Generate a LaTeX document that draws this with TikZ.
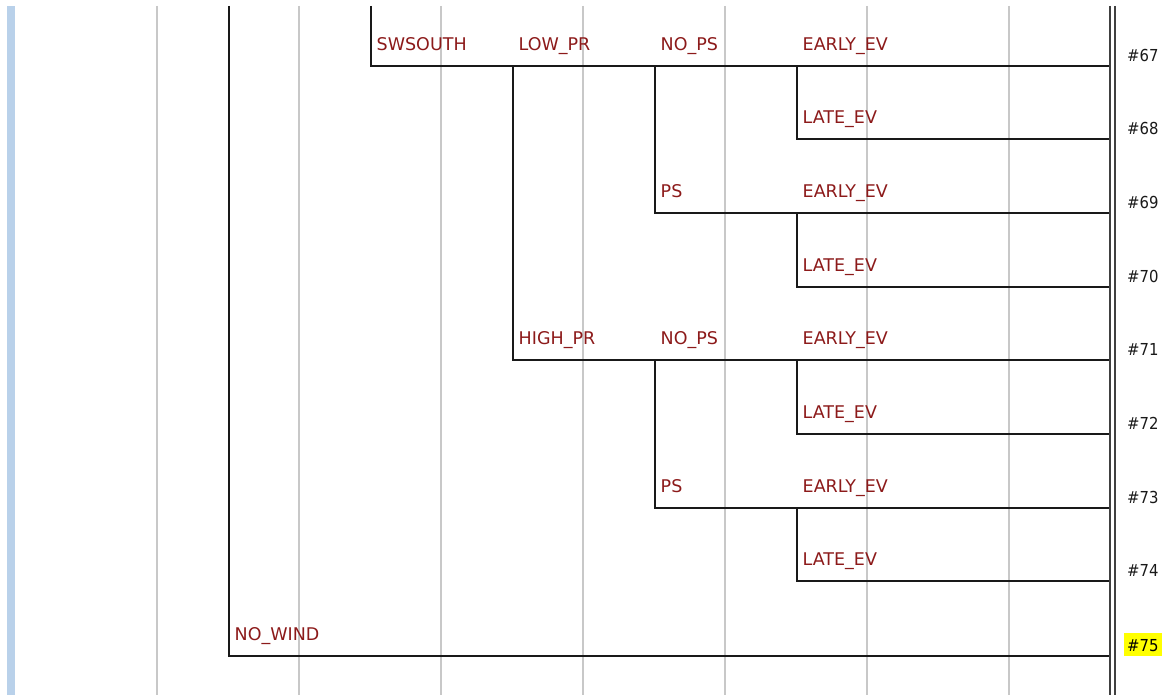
\documentclass[tikz,border=0pt]{standalone}
\usepackage{fontspec}
\setmainfont{DejaVu Sans}
\newfontfamily\numfont{DejaVu Sans Condensed}
\definecolor{lbl}{HTML}{8C1A1A}
\definecolor{grid}{HTML}{C8C8C8}
\definecolor{bar}{HTML}{B9D1EA}
\definecolor{hl}{HTML}{FFFF00}
\tikzset{
  treeline/.style={draw=black!90, line width=1.5pt},
  gridline/.style={draw=grid, line width=1.4pt},
  rail/.style={draw=black!75, line width=1.3pt},
  lab/.style={anchor=base west, inner sep=0pt, text=lbl, font=\fontsize{17.5}{20}\selectfont},
  num/.style={anchor=base west, inner xsep=3pt, inner ysep=2.5pt, text height=16pt, text depth=2pt, text=black!90, font=\numfont\fontsize{16.5}{18}\selectfont},
}
\begin{document}
\begin{tikzpicture}[x=1pt,y=-1pt]
\useasboundingbox (0,0) rectangle (1165,695);
\fill[bar] (7,6) rectangle (14.5,695);
% grid lines
\foreach \gx in {157,299,441,583,725,867,1009}
  \draw[gridline] (\gx,6) -- (\gx,695);
% right rail
\draw[rail] (1110,6) -- (1110,695);
\draw[rail] (1115,6) -- (1115,695);
% row coordinates
\foreach \r/\ry in {0/66,1/139,2/213,3/287,4/360,5/434,6/508,7/581,8/656}
  \coordinate (e\r) at (1109,\ry);
\coordinate (t229) at (229,6);
\coordinate (t371) at (371,6);
\coordinate (b0) at (371,66);
\coordinate (c0) at (513,66);
\coordinate (d0) at (655,66);
\coordinate (f0) at (797,66);
\coordinate (f1) at (797,139);
\coordinate (d2) at (655,213);
\coordinate (f2) at (797,213);
\coordinate (f3) at (797,287);
\coordinate (c4) at (513,360);
\coordinate (d4) at (655,360);
\coordinate (f4) at (797,360);
\coordinate (f5) at (797,434);
\coordinate (d6) at (655,508);
\coordinate (f6) at (797,508);
\coordinate (f7) at (797,581);
\coordinate (a8) at (229,656);
% tree lines
\draw[treeline] (t371) -- (b0) -- (e0);
\draw[treeline] (t229) -- (a8) -- (e8);
\draw[treeline] (c0) -- (c4) -- (e4);
\draw[treeline] (d0) -- (d2) -- (e2);
\draw[treeline] (d4) -- (d6) -- (e6);
\draw[treeline] (f0) -- (f1) -- (e1);
\draw[treeline] (f2) -- (f3) -- (e3);
\draw[treeline] (f4) -- (f5) -- (e5);
\draw[treeline] (f6) -- (f7) -- (e7);
% labels
\node[lab] (l0a) at ([shift={(5.5,-15.5)}]b0) {SWSOUTH};
\node[lab] (l0b) at ([shift={(5.5,-15.5)}]c0) {LOW\_PR};
\node[lab] (l0c) at ([shift={(5.5,-15.5)}]d0) {NO\_PS};
\node[lab] (l0d) at ([shift={(5.5,-15.5)}]f0) {EARLY\_EV};
\node[lab] (l1) at ([shift={(5.5,-15.5)}]f1) {LATE\_EV};
\node[lab] (l2a) at ([shift={(5.5,-15.5)}]d2) {PS};
\node[lab] (l2b) at ([shift={(5.5,-15.5)}]f2) {EARLY\_EV};
\node[lab] (l3) at ([shift={(5.5,-15.5)}]f3) {LATE\_EV};
\node[lab] (l4a) at ([shift={(5.5,-15.5)}]c4) {HIGH\_PR};
\node[lab] (l4b) at ([shift={(5.5,-15.5)}]d4) {NO\_PS};
\node[lab] (l4c) at ([shift={(5.5,-15.5)}]f4) {EARLY\_EV};
\node[lab] (l5) at ([shift={(5.5,-15.5)}]f5) {LATE\_EV};
\node[lab] (l6a) at ([shift={(5.5,-15.5)}]d6) {PS};
\node[lab] (l6b) at ([shift={(5.5,-15.5)}]f6) {EARLY\_EV};
\node[lab] (l7) at ([shift={(5.5,-15.5)}]f7) {LATE\_EV};
\node[lab] (l8) at ([shift={(5.5,-15.5)}]a8) {NO\_WIND};
% numbers
\foreach \r/\n in {0/67,1/68,2/69,3/70,4/71,5/72,6/73,7/74}
  \node[num] (n\r) at ([shift={(15,-4.5)}]e\r) {\#\n};
\node[num, fill=hl, text=black] (n8) at ([shift={(15,-4.5)}]e8) {\#75};
\end{tikzpicture}
\end{document}
